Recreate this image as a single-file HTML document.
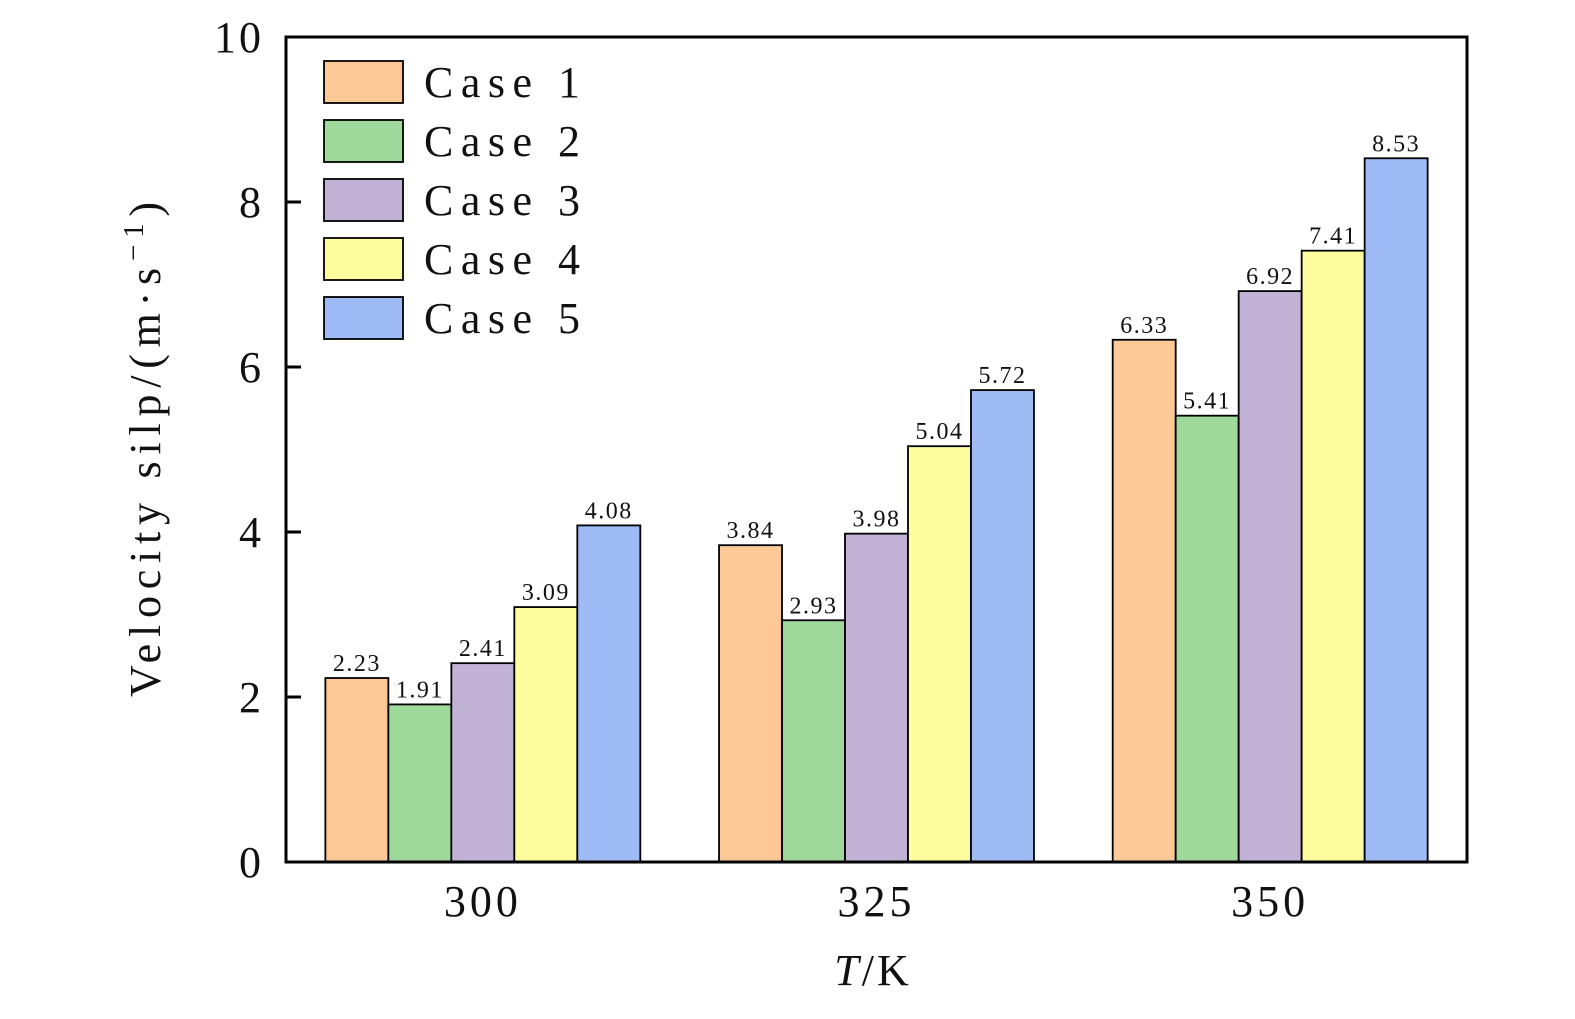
<!DOCTYPE html>
<html><head><meta charset="utf-8"><style>
body{margin:0;background:#fff}
svg text{font-family:"Liberation Serif",serif;fill:#111}
</style></head><body>
<svg id="chart" width="1575" height="1014" xmlns="http://www.w3.org/2000/svg">
<g id="bars"></g>
<g id="labels"></g>
<g id="axes"></g>
<g id="legend"></g>
<text transform="translate(160,697) rotate(-90)" font-size="44" textLength="495" lengthAdjust="spacing">Velocity silp/(m·s<tspan dy="-17" font-size="29">−1</tspan><tspan dy="17">)</tspan></text>
<text x="873" y="985" text-anchor="middle" font-size="44" letter-spacing="3"><tspan font-style="italic">T</tspan>/K</text>
</svg>
<script>
const categories=["300","325","350"];
const seriesNames=["Case 1","Case 2","Case 3","Case 4","Case 5"];
const case1=[2.23,3.84,6.33];
const case2=[1.91,2.93,5.41];
const case3=[2.41,3.98,6.92];
const case4=[3.09,5.04,7.41];
const case5=[4.08,5.72,8.53];
const yTicks=[0,2,4,6,8,10];
const series=[case1,case2,case3,case4,case5];
const colors=["#FCC896","#9ED89B","#C2B3D6","#FFFE9F","#9EBBF5"];
const L=286,R=1467,T=37,B=862,yMax=10;
const y=v=>B-(v/yMax)*(B-T);
const band=(R-L)/categories.length;
const bw=band*0.8/series.length;
const xc=i=>L+band*(i+0.5);
const NS="http://www.w3.org/2000/svg";
function mk(tag,attrs,parent){const e=document.createElementNS(NS,tag);for(const k in attrs)e.setAttribute(k,attrs[k]);parent.appendChild(e);return e;}
const gb=document.getElementById('bars'),gl=document.getElementById('labels'),ga=document.getElementById('axes'),gg=document.getElementById('legend');
series.forEach((s,si)=>{s.forEach((v,ci)=>{
 const x=xc(ci)-band*0.4+si*bw;
 const r=mk('rect',{x:x,y:y(v),width:bw,height:B-y(v),fill:colors[si],stroke:"#000","stroke-width":1.8},gb);
 
 
 const t=mk('text',{x:x+bw/2,y:y(v)-7,"text-anchor":"middle","font-size":24,"letter-spacing":1.5},gl);
 t.textContent=v.toFixed(2);
 
 
});});
const f=mk('rect',{x:L,y:T,width:R-L,height:B-T,fill:"none",stroke:"#000","stroke-width":3},ga);


yTicks.forEach(v=>{
 mk('line',{x1:L,x2:L+15,y1:y(v),y2:y(v),stroke:"#000","stroke-width":3},ga);
 const t=mk('text',{x:L-22,y:y(v)+15,"text-anchor":"end","font-size":44,"letter-spacing":3},ga);
 t.textContent=v;
 
 
});
categories.forEach((c,i)=>{
 const t=mk('text',{x:xc(i),y:B+54,"text-anchor":"middle","font-size":44,"letter-spacing":4},ga);
 t.textContent=c;
 
 
});
seriesNames.forEach((n,i)=>{
 const yy=61+i*59;
 const r=mk('rect',{x:324,y:yy,width:79,height:42,fill:colors[i],stroke:"#000","stroke-width":1.8},gg);
 
 
 const t=mk('text',{x:424,y:yy+36,"font-size":44,textLength:156,lengthAdjust:"spacing"},gg);
 t.textContent=n;
 
 
});
</script>
</body></html>
